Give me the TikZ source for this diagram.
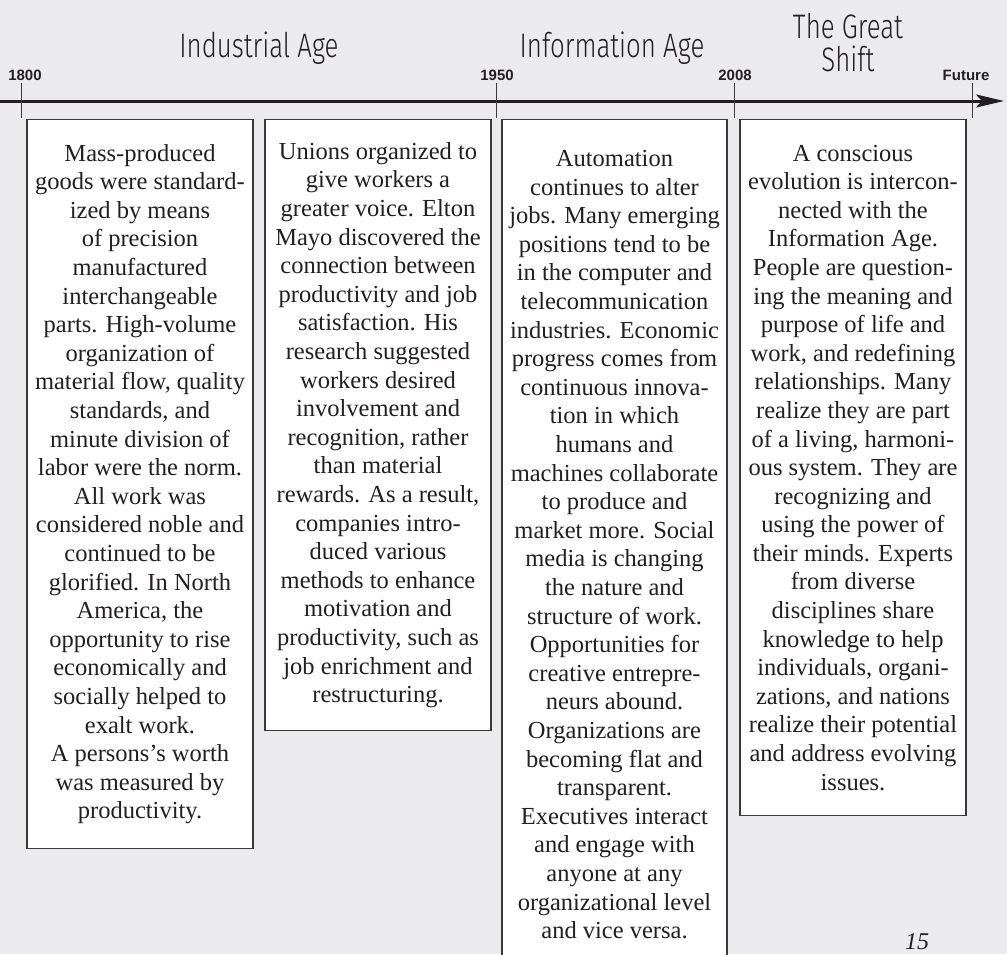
\documentclass[tikz,border=0pt]{standalone}
\usepackage{fontspec}
\setmainfont{Liberation Serif}
\newfontfamily\yearfont{Liberation Sans}
\newfontfamily\agefont[FakeStretch=0.76]{Fira Sans Light}
\usetikzlibrary{positioning,arrows.meta}
\definecolor{pageGray}{HTML}{EBEBED}
\definecolor{inkDark}{HTML}{231F20}
\definecolor{boxLine}{HTML}{3A3A3A}

\begin{document}
\begin{tikzpicture}[x=1pt, y=-1pt, >=Stealth,
      box/.style={draw=boxLine, fill=white, line width=1.3pt, anchor=north, align=center, inner sep=0pt,
        minimum width=226pt, text=inkDark, font=\fontsize{24.5}{28.6}\selectfont},
      age/.style={font=\agefont\fontsize{34}{33}\selectfont, text=inkDark, align=center, inner sep=0pt},
      yearlabel/.style={font=\yearfont\bfseries\fontsize{15}{15}\selectfont, text=inkDark, anchor=base, inner sep=0pt},
      tick/.style={draw=boxLine, line width=1pt},
      axis/.style={draw=inkDark, line width=3pt, -{Stealth[length=28pt, width=13pt, inset=6pt]}}]
    \useasboundingbox (0,0) rectangle (1007,954);
    \fill[pageGray] (0,0) rectangle (1007,954);
    \coordinate (axisStart) at (0,101);
    \coordinate (axisEnd) at (1004,101);
    \draw[axis] (axisStart) -- (axisEnd);
    \foreach \x/\lx/\yr/\nm in {21/25/1800/y1800, 496/497/1950/y1950, 734/735/2008/y2008, 972/966/Future/yFuture} {
      \node[yearlabel] (\nm) at (\lx,80) {\yr};
      \draw[tick] (\x,83) -- (\x,118);
    }
    \node[age, anchor=base] (industrial) at (259,57) {Industrial Age};
    \node[age, anchor=base] (information) at (612,57) {Information Age};
    \node[age, anchor=north] (shift) at (848,13) {The Great\\Shift};
    \node[box, minimum height=729pt] (box1800) at (140,119) {Mass-produced\\ goods were standard-\\ ized by means\\ of precision\\ manufactured\\
      interchangeable\\ parts. High-volume\\ organization of\\ material flow, quality\\ standards, and\\ minute division of\\
      labor were the norm.\\ All work was\\ considered noble and\\ continued to be\\ glorified. In North\\ America, the\\
      opportunity to rise\\ economically and\\ socially helped to\\ exalt work.\\ A persons’s worth\\ was measured by\\ productivity.};
    \node[box, minimum height=611pt] (box1900) at (378,119) {Unions organized to\\ give workers a\\ greater voice. Elton\\ Mayo discovered the\\
      connection between\\ productivity and job\\ satisfaction. His\\ research suggested\\ workers desired\\ involvement and\\
      recognition, rather\\ than material\\ rewards. As a result,\\ companies intro-\\ duced various\\ methods to enhance\\
      motivation and\\ productivity, such as\\ job enrichment and\\ restructuring.};
    \node[box, minimum width=225pt, minimum height=850pt] (box1950) at (614.5,119) {Automation\\ continues to alter\\ jobs. Many emerging\\
      positions tend to be\\ in the computer and\\ telecommunication\\ industries. Economic\\ progress comes from\\
      continuous innova-\\ tion in which\\ humans and\\ machines collaborate\\ to produce and\\ market more. Social\\
      media is changing\\ the nature and\\ structure of work.\\ Opportunities for\\ creative entrepre-\\ neurs abound.\\
      Organizations are\\ becoming flat and\\ transparent.\\ Executives interact\\ and engage with\\ anyone at any\\
      organizational level\\ and vice versa.};
    \node[box, minimum height=696pt] (box2008) at (853,119) {A conscious\\ evolution is intercon-\\ nected with the\\
      Information Age.\\ People are question-\\ ing the meaning and\\ purpose of life and\\ work, and redefining\\
      relationships. Many\\ realize they are part\\ of a living, harmoni-\\ ous system. They are\\ recognizing and\\
      using the power of\\ their minds. Experts\\ from diverse\\ disciplines share\\ knowledge to help\\
      individuals, organi-\\ zations, and nations\\ realize their potential\\ and address evolving\\ issues.};
    \node[anchor=base, inner sep=0pt, text=inkDark, font=\itshape\fontsize{24}{24}\selectfont] (pageno) at (917,949) {15};
  \end{tikzpicture}
\end{document}
